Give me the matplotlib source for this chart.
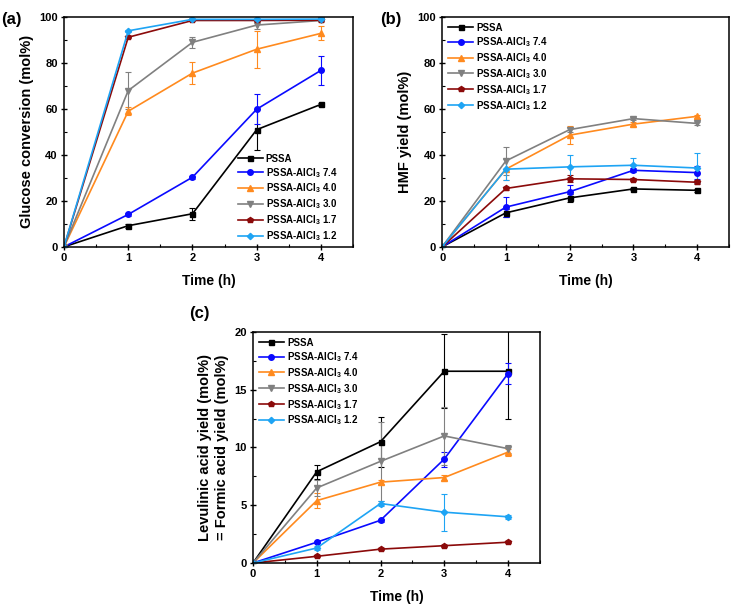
import matplotlib
matplotlib.use('Agg')
import matplotlib.pyplot as plt
from matplotlib.ticker import MultipleLocator

plt.rcParams['font.family'] = ['Liberation Sans', 'DejaVu Sans']
plt.rcParams['font.weight'] = 'bold'
plt.rcParams['mathtext.fontset'] = 'custom'
plt.rcParams['mathtext.rm'] = 'Liberation Sans:bold'
plt.rcParams['mathtext.bf'] = 'Liberation Sans:bold'

time = [0, 1, 2, 3, 4]

labels = ['PSSA', r'PSSA-AlCl$_\mathbf{3}$ 7.4', r'PSSA-AlCl$_\mathbf{3}$ 4.0',
          r'PSSA-AlCl$_\mathbf{3}$ 3.0', r'PSSA-AlCl$_\mathbf{3}$ 1.7', r'PSSA-AlCl$_\mathbf{3}$ 1.2']
colors = ['black', '#0a0aff', '#ff8a1e', '#808080', '#8b0a0a', '#1ea4f4']
markers = ['s', 'o', '^', 'v', 'p', 'D']
msizes = [3.6, 4, 4, 4, 4, 3.2]

# glucose conversion (mol%)
conv = [
    [0, 9.2, 14.4, 51.0, 62.0],
    [0, 14.1, 30.3, 59.9, 76.8],
    [0, 59.0, 75.6, 86.0, 92.9],
    [0, 68.0, 89.0, 96.5, 98.5],
    [0, 91.2, 98.5, 98.5, 98.6],
    [0, 94.0, 99.0, 99.0, 99.1],
]
conv_err = [
    [0, 0.8, 2.6, 8.8, 0.5],
    [0, 0.6, 0.6, 6.6, 6.4],
    [0, 1.8, 4.7, 8.0, 3.0],
    [0, 8.0, 2.3, 1.6, 0.5],
    [0, 0.5, 0.4, 0.4, 0.4],
    [0, 0.5, 0.3, 0.3, 0.3],
]

# HMF yield (mol%)
hmf = [
    [0, 14.8, 21.3, 25.2, 24.6],
    [0, 17.3, 24.0, 33.3, 32.3],
    [0, 33.8, 48.6, 53.4, 56.8],
    [0, 37.4, 51.0, 55.8, 53.7],
    [0, 25.4, 29.6, 29.3, 28.1],
    [0, 33.8, 34.8, 35.5, 34.3],
]
hmf_err = [
    [0, 1.8, 1.8, 0.6, 0.6],
    [0, 4.2, 2.8, 0.8, 2.8],
    [0, 4.5, 3.8, 1.0, 0.6],
    [0, 6.0, 1.0, 0.6, 0.6],
    [0, 0.6, 1.6, 0.6, 0.8],
    [0, 4.6, 5.0, 3.0, 6.5],
]

# levulinic acid yield = formic acid yield (mol%)
la = [
    [0, 7.9, 10.5, 16.6, 16.6],
    [0, 1.8, 3.7, 9.0, 16.4],
    [0, 5.4, 7.0, 7.4, 9.6],
    [0, 6.5, 8.8, 11.0, 9.9],
    [0, 0.58, 1.2, 1.5, 1.8],
    [0, 1.3, 5.15, 4.4, 4.0],
]
la_err = [
    [0, 0.6, 2.15, 3.2, 4.1],
    [0, 0.1, 0.15, 0.65, 0.9],
    [0, 0.65, 0.15, 0.25, 0.3],
    [0, 0.7, 3.4, 2.5, 0.35],
    [0, 0.05, 0.08, 0.08, 0.1],
    [0, 0.15, 0.2, 1.6, 0.15],
]

fig = plt.figure(figsize=(7.32, 6.08), dpi=100)
ax_a = fig.add_axes([0.0874, 0.594, 0.395, 0.378])
ax_b = fig.add_axes([0.604, 0.594, 0.392, 0.378])
ax_c = fig.add_axes([0.3456, 0.074, 0.392, 0.380])


def draw(ax, data, err, ymax, ymajor, ylabel, legend_loc, legend_anchor):
    handles = []
    for i in range(6):
        eb = ax.errorbar(time, data[i], yerr=err[i], color=colors[i], marker=markers[i],
                         markersize=msizes[i], linewidth=1.2, elinewidth=0.8, capsize=2.2,
                         capthick=0.8, label=labels[i])
        handles.append(eb[0])
    ax.set_xlim(0, 4.5)
    ax.set_ylim(0, ymax)
    ax.xaxis.set_major_locator(MultipleLocator(1))
    ax.xaxis.set_minor_locator(MultipleLocator(0.5))
    ax.yaxis.set_major_locator(MultipleLocator(ymajor))
    ax.yaxis.set_minor_locator(MultipleLocator(ymajor / 2))
    ax.tick_params(which='major', direction='inout', length=5, width=1, labelsize=8, pad=2)
    ax.tick_params(which='minor', direction='in', length=2.5, width=0.8)
    for s in ax.spines.values():
        s.set_linewidth(1.1)
    ax.set_xlabel('Time (h)', fontsize=10, fontweight='bold', labelpad=8)
    ax.set_ylabel(ylabel, fontsize=10.5, fontweight='bold', labelpad=4)
    ax.legend(handles, labels, loc=legend_loc, bbox_to_anchor=legend_anchor, frameon=False,
              fontsize=7, handlelength=2.6, labelspacing=0.22, handletextpad=0.3,
              borderaxespad=0.2)


draw(ax_a, conv, conv_err, 100, 20, 'Glucose conversion (mol%)', 'lower left', (0.58, -0.01))
draw(ax_b, hmf, hmf_err, 100, 20, 'HMF yield (mol%)', 'upper left', (0.0, 1.0))
draw(ax_c, la, la_err, 20, 5, 'Levulinic acid yield (mol%)\n= Formic acid yield (mol%)',
     'upper left', (0.0, 1.0))

fig.text(0.002, 0.98, '(a)', fontsize=12, fontweight='bold', va='top')
fig.text(0.519, 0.98, '(b)', fontsize=12, fontweight='bold', va='top')
fig.text(0.258, 0.497, '(c)', fontsize=12, fontweight='bold', va='top')

fig.savefig('out.png', dpi=100)
